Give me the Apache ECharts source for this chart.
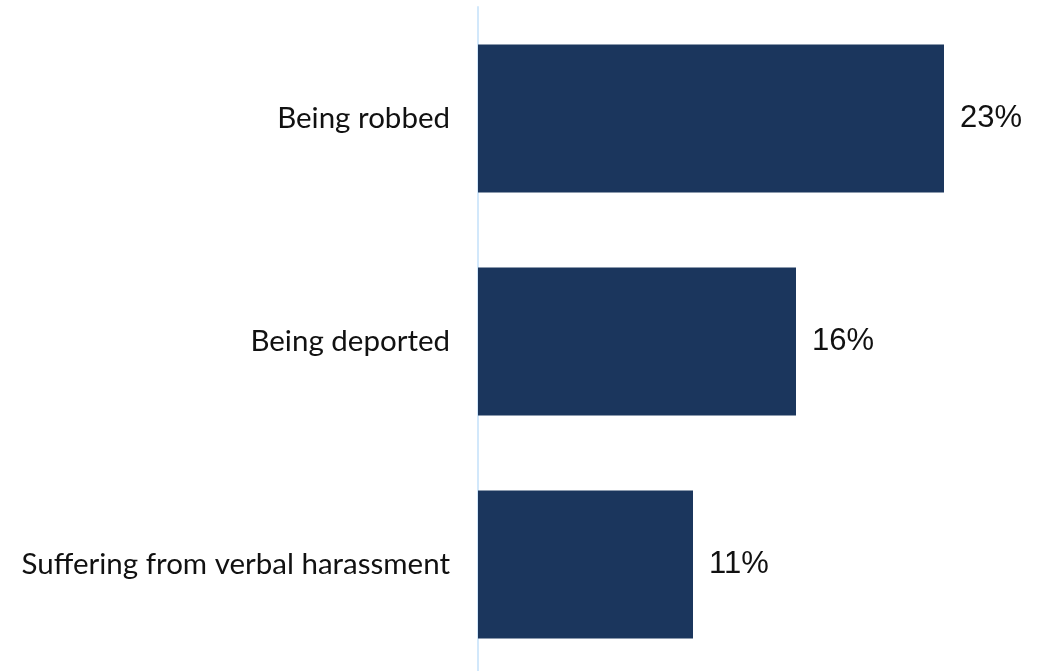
<!DOCTYPE html>
<html>
<head>
<meta charset="utf-8">
<script src="https://cdn.jsdelivr.net/npm/echarts@6/dist/echarts.min.js"></script>
<style>html,body{margin:0;padding:0;background:#fff}#c{width:1043px;height:671px}</style>
</head>
<body>
<div id="c"></div>
<script>
const categories = ["Being robbed", "Being deported", "Suffering from verbal harassment"];
const values = [23.3, 15.9, 10.75];
const valueLabels = ["23%", "16%", "11%"];

const chart = echarts.init(document.getElementById('c'), null, {renderer: 'canvas'});
chart.setOption({
  animation: false,
  grid: {left: 478, right: 25, top: 7, bottom: -5, outerBoundsMode: 'none', containLabel: false},
  xAxis: {type: 'value', min: 0, max: 27, show: false},
  yAxis: {
    type: 'category', data: categories, inverse: true,
    axisLine: {show: true, lineStyle: {color: '#d2e8fb', width: 2}},
    axisTick: {show: false},
    axisLabel: {margin: 28, color: '#111', fontFamily: 'Lato', fontSize: 29.5}
  },
  series: [{
    type: 'bar', data: values, barWidth: 148,
    itemStyle: {color: '#1b365d'},
    label: {
      show: true, position: 'right', distance: 16,
      formatter: p => valueLabels[p.dataIndex],
      color: '#111', fontFamily: 'Liberation Sans', fontSize: 31
    }
  }]
});
</script>
</body>
</html>
